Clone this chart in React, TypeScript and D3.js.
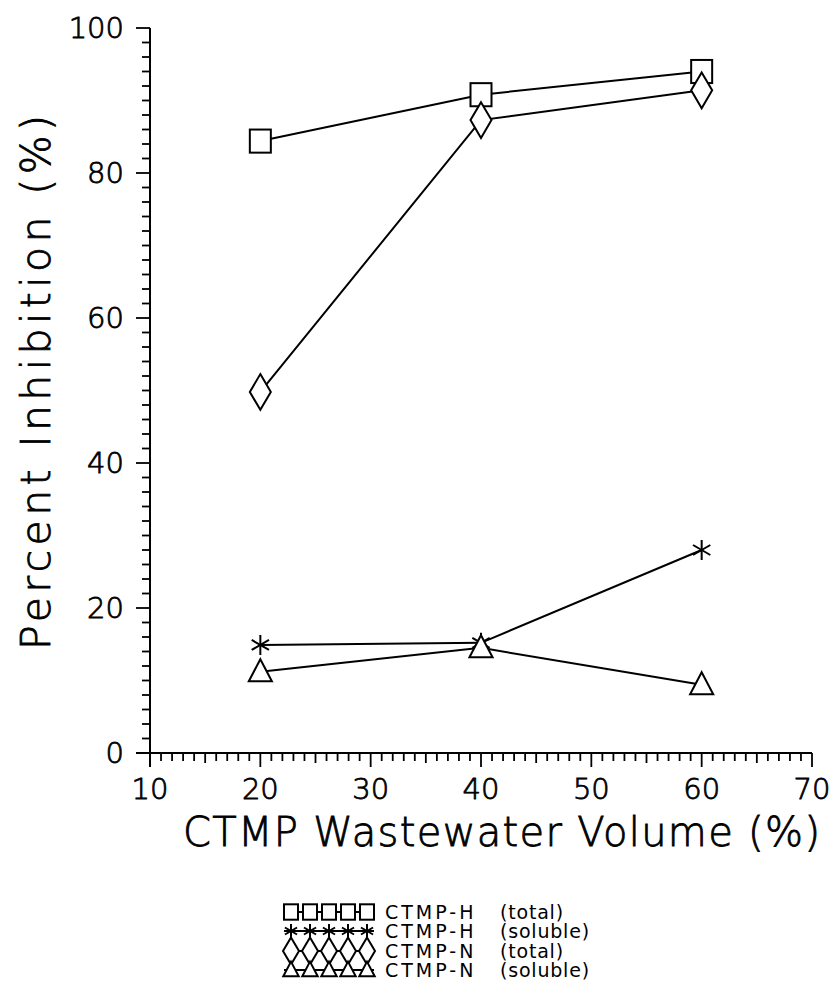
import React from "react";
import * as d3 from "d3";

const volumes = [20, 40, 60];
const hTotal = [84.4, 90.8, 94.0];
const hSoluble = [14.9, 15.2, 28.0];
const nTotal = [49.8, 87.3, 91.4];
const nSoluble = [11.2, 14.5, 9.4];

const xMajorTicks = [10, 20, 30, 40, 50, 60, 70];
const yMajorTicks = [0, 20, 40, 60, 80, 100];

const legendNames = ["CTMP-H", "CTMP-H", "CTMP-N", "CTMP-N"];
const legendKinds = ["(total)", "(soluble)", "(total)", "(soluble)"];

type Kind = "square" | "star" | "diamond" | "triangle";

const series: { values: number[]; kind: Kind }[] = [
  { values: hTotal, kind: "square" },
  { values: hSoluble, kind: "star" },
  { values: nTotal, kind: "diamond" },
  { values: nSoluble, kind: "triangle" },
];

const FONT = "'DejaVu Sans', 'Liberation Sans', sans-serif";

function Marker({ kind, x, y, s }: { kind: Kind; x: number; y: number; s: number }) {
  const common = { fill: "white", stroke: "black", strokeWidth: 2 };
  if (kind === "square") {
    return <rect x={x - s * 0.5} y={y - s * 0.55} width={s} height={s * 1.1} {...common} />;
  }
  if (kind === "diamond") {
    const w = s * 0.5;
    const h = s * 0.85;
    return <path d={`M${x},${y - h}L${x + w},${y}L${x},${y + h}L${x - w},${y}Z`} {...common} />;
  }
  if (kind === "triangle") {
    const w = s * 0.55;
    return <path d={`M${x},${y - s * 0.6}L${x + w},${y + s * 0.45}L${x - w},${y + s * 0.45}Z`} {...common} />;
  }
  const r = s * 0.5;
  const a = Math.PI / 6;
  return (
    <g stroke="black" strokeWidth={2}>
      <line x1={x} y1={y - r} x2={x} y2={y + r} />
      <line x1={x - r * Math.cos(a)} y1={y - r * Math.sin(a)} x2={x + r * Math.cos(a)} y2={y + r * Math.sin(a)} />
      <line x1={x - r * Math.cos(a)} y1={y + r * Math.sin(a)} x2={x + r * Math.cos(a)} y2={y - r * Math.sin(a)} />
    </g>
  );
}

export default function App() {
  const W = 837;
  const H = 1006;
  const x = d3.scaleLinear().domain([10, 70]).range([150, 812]);
  const y = d3.scaleLinear().domain([0, 100]).range([753, 28]);
  const line = d3
    .line<number>()
    .x((_, i) => x(volumes[i]))
    .y((d) => y(d));

  const xMinor = d3.range(10, 70.001, 1);
  const yMinor = d3.range(0, 100.001, 2);

  const legendY = [912, 931, 951, 970];
  const legendSampleX = d3.range(5).map((i) => 291 + i * 19);

  const thin = { fontWeight: 200, fill: "black", stroke: "black", strokeWidth: 0.8 };

  return (
    <svg
      width={W}
      height={H}
      style={{ position: "absolute", left: 0, top: 0, background: "white" }}
      fontFamily={FONT}
    >
      <rect x={0} y={0} width={W} height={H} fill="white" />
      {/* axes */}
      <line x1={x(10)} y1={y(100)} x2={x(10)} y2={y(0) + 14} stroke="black" strokeWidth={2} />
      <line x1={x(10) - 14} y1={y(0)} x2={x(70)} y2={y(0)} stroke="black" strokeWidth={2} />
      {yMinor.map((v) => (
        <line
          key={"ym" + v}
          x1={x(10) - (v % 20 === 0 ? 14 : 8)}
          x2={x(10)}
          y1={y(v)}
          y2={y(v)}
          stroke="black"
          strokeWidth={1.8}
        />
      ))}
      {xMinor.map((v) => (
        <line
          key={"xm" + v}
          x1={x(v)}
          x2={x(v)}
          y1={y(0)}
          y2={y(0) + (v % 10 === 0 ? 14 : v % 5 === 0 ? 10 : 8)}
          stroke="black"
          strokeWidth={1.8}
        />
      ))}
      {yMajorTicks.map((v) => (
        <text
          key={"yl" + v}
          x={124}
          y={y(v)}
          dy="0.36em"
          textAnchor="end"
          fontSize={29}
          {...thin}
        >
          {v}
        </text>
      ))}
      {xMajorTicks.map((v) => (
        <text key={"xl" + v} x={x(v)} y={799} textAnchor="middle" fontSize={29} {...thin}>
          {v}
        </text>
      ))}
      {/* axis titles */}
      <text
        x={183}
        y={846}
        fontSize={40}
        textLength={637}
        lengthAdjust="spacing"
        {...thin}
      >
        CTMP  Wastewater  Volume  (%)
      </text>
      <text
        transform={`translate(50,650) rotate(-90)`}
        x={0}
        y={0}
        fontSize={41}
        textLength={535}
        lengthAdjust="spacing"
        {...thin}
      >
        Percent Inhibition (%)
      </text>
      {/* series */}
      {series.map((s, si) => (
        <g key={"s" + si}>
          <path d={line(s.values) || ""} fill="none" stroke="black" strokeWidth={2} />
        </g>
      ))}
      {series.map((s, si) => (
        <g key={"m" + si}>
          {s.values.map((v, i) => (
            <Marker key={i} kind={s.kind} x={x(volumes[i])} y={y(v)} s={s.kind === "star" ? 20 : 21} />
          ))}
        </g>
      ))}
      {/* legend */}
      {series.map((s, si) => (
        <g key={"l" + si}>
          <line
            x1={legendSampleX[0] - 7}
            x2={legendSampleX[4] + 7}
            y1={legendY[si]}
            y2={legendY[si]}
            stroke="black"
            strokeWidth={1.8}
          />
          {legendSampleX.map((lx, i) => (
            <Marker key={i} kind={s.kind} x={lx} y={legendY[si]} s={s.kind === "diamond" ? 16 : 14} />
          ))}
          <text x={385} y={legendY[si]} dy="0.36em" fontSize={19} letterSpacing={3} fill="black">
            {legendNames[si]}
          </text>
          <text x={500} y={legendY[si]} dy="0.36em" fontSize={19} letterSpacing={0.8} fill="black">
            {legendKinds[si]}
          </text>
        </g>
      ))}
    </svg>
  );
}
